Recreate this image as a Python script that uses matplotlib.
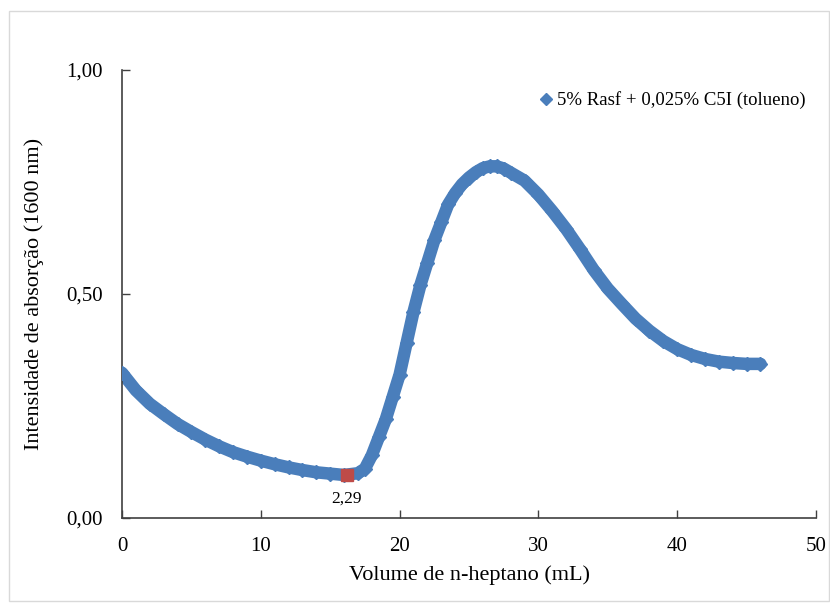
import matplotlib
matplotlib.use("Agg")
import matplotlib.pyplot as plt
from matplotlib.patches import Rectangle
from matplotlib.ticker import FuncFormatter, MultipleLocator

# titration curve: absorbance at 1600 nm vs added n-heptane volume
volume = [0, 1, 2, 3, 4, 5, 6, 7, 8, 9, 10, 11, 12, 13, 14, 15, 16, 17,
          17.5, 18, 18.5, 19, 19.5, 20, 20.5, 21, 21.5, 22, 22.5, 23, 23.5,
          24, 24.5, 25, 25.5, 26, 26.5, 27, 27.5, 28, 29, 30, 31, 32, 33,
          34, 35, 36, 37, 38, 39, 40, 41, 42, 43, 44, 45, 46]
absorb = [0.324, 0.285, 0.255, 0.232, 0.210, 0.192, 0.175, 0.160, 0.147,
          0.137, 0.128, 0.120, 0.113, 0.107, 0.102, 0.099, 0.096, 0.100,
          0.110, 0.140, 0.180, 0.220, 0.270, 0.320, 0.390, 0.460, 0.520,
          0.570, 0.620, 0.660, 0.700, 0.725, 0.745, 0.760, 0.772, 0.781,
          0.785, 0.785, 0.780, 0.771, 0.753, 0.722, 0.685, 0.645, 0.600,
          0.553, 0.512, 0.478, 0.445, 0.418, 0.395, 0.377, 0.364, 0.355,
          0.349, 0.346, 0.344, 0.344]

# onset of flocculation
onset_x = 16.2
onset_y = 0.096
onset_label = "2,29"

series_name = "5% Rasf + 0,025% C5I (tolueno)"
BLUE = "#4A7EBB"
RED = "#BE4B48"

plt.rcParams["font.family"] = ["Liberation Serif", "DejaVu Serif"]

fig = plt.figure(figsize=(8.30, 6.03), dpi=100)
fig.patches.append(Rectangle((9 / 830, 2 / 603), 820 / 830, 590 / 603,
                             transform=fig.transFigure, fill=False,
                             edgecolor="#D9D9D9", lw=1.0))
ax = fig.add_axes([122 / 830, 1 - 518 / 603, 694 / 830, 448 / 603])

ax.plot(volume, absorb, "-", color=BLUE, lw=9, solid_capstyle="round",
        solid_joinstyle="round", zorder=2)
ax.plot(volume, absorb, "D", color=BLUE, ms=7, label=series_name, zorder=3)
ax.plot([onset_x], [onset_y], "s", color=RED, ms=8, zorder=4)
ax.annotate(onset_label, (onset_x, onset_y), xytext=(0, -17),
            textcoords="offset points", ha="center", va="center",
            fontsize=12.5)

ax.set_xlim(0, 50)
ax.set_ylim(0, 1.0)
ax.xaxis.set_major_locator(MultipleLocator(10))
ax.yaxis.set_major_locator(MultipleLocator(0.5))
ax.yaxis.set_major_formatter(FuncFormatter(lambda v, p: f"{v:.2f}".replace(".", ",")))
ax.tick_params(direction="in", length=6, width=1, colors="#404040",
               labelsize=15, labelcolor="black")
ax.tick_params(axis="x", pad=14)
ax.tick_params(axis="y", pad=14)
for side in ("top", "right"):
    ax.spines[side].set_visible(False)
for side in ("left", "bottom"):
    ax.spines[side].set_color("#404040")
    ax.spines[side].set_linewidth(1.2)

ax.set_xlabel("Volume de n-heptano (mL)", fontsize=16, labelpad=6)
ax.set_ylabel("Intensidade de absorção (1600 nm)", fontsize=16, labelpad=16)

leg = ax.legend(loc="upper right", bbox_to_anchor=(1.01, 0.99), frameon=False,
                fontsize=13.5, handlelength=0.6, handletextpad=0.3,
                markerscale=0.9)

fig.savefig("out.png", dpi=100)
